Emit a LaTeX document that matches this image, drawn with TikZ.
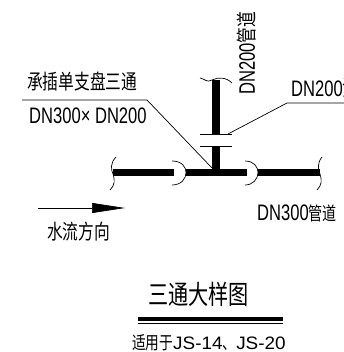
\documentclass[tikz,border=0pt]{standalone}
\usepackage{fontspec}
\setmainfont[FakeStretch=0.74]{Liberation Sans}
\newfontfamily\cjkfont[FakeStretch=0.76]{Noto Sans CJK SC}
\newfontfamily\notefont[FakeStretch=1.05]{Liberation Sans}
\usetikzlibrary{arrows.meta}
\begin{document}
\begin{tikzpicture}[x=1pt,y=-1pt,
  pipe/.style={line width=7.5pt},
  thin line/.style={line width=0.7pt},
  label/.style={inner sep=0pt,anchor=west,font=\fontsize{22.4}{22}\selectfont}
  ]
  \useasboundingbox (0,0) rectangle (344,352);

  \coordinate (main_a) at (113,172.5);
  \coordinate (main_b) at (174,172.5);
  \coordinate (main_c) at (186,172.5);
  \coordinate (main_d) at (247,172.5);
  \coordinate (main_e) at (258,172.5);
  \coordinate (main_f) at (320,172.5);
  \coordinate (branch_top) at (216,80);
  \coordinate (flange_up) at (216,134.5);
  \coordinate (flange_low) at (216,146.5);
  \coordinate (tee) at (216,172.5);

  \draw[pipe] (main_a) -- (main_b);
  \draw[pipe] (main_c) -- (main_d);
  \draw[pipe] (main_e) -- (main_f);
  \draw[pipe] (branch_top) -- (flange_up);
  \draw[pipe] (flange_low) -- (tee);

  % flanges
  \draw[thin line] (200,134.5) -- (232,134.5);
  \draw[thin line] (200,146.5) -- (232,146.5);

  % sockets
  \draw[thin line] (172,161) .. controls (182,161) and (186,167) .. (186,172.5)
    .. controls (186,179) and (181,185) .. (172,185);
  \draw[thin line] (245,161) .. controls (254,161) and (258,167) .. (258,172.5)
    .. controls (258,179) and (253,185) .. (245,185);

  % break lines
  \draw[thin line] (200,78) .. controls (205,79) and (207,83) .. (212,80)
    .. controls (218,77) and (226,77) .. (232,83);
  \draw[thin line] (116,157) .. controls (110,163) and (111,170) .. (113,174)
    .. controls (115,180) and (115,185) .. (110,190);
  \draw[thin line] (322,157) .. controls (317,163) and (318,170) .. (320,174)
    .. controls (322,180) and (322,185) .. (317,190);

  % leaders
  \coordinate (lead_a) at (22,100);
  \coordinate (lead_b) at (147,100);
  \coordinate (lead_c) at (212,168);
  \coordinate (lead_d) at (228,134);
  \coordinate (lead_e) at (287,103);
  \coordinate (lead_f) at (344,103);
  \draw[thin line] (lead_a) -- (lead_b) -- (lead_c);
  \draw[thin line] (lead_d) -- (lead_e) -- (lead_f);

  \node[label,font=\fontsize{20.7}{20}\selectfont] (tee_name) at (27,82) {\cjkfont 承插单支盘三通};
  \node[label] (tee_size) at (29,116) {DN300× DN200};
  \node[label,rotate=90] (branch_name) at (247,95) {DN200{\fontsize{20.7}{20}\selectfont\cjkfont 管道}};
  \node[label] (flange_name) at (291,88) {DN200{\cjkfont 法}};
  \node[label] (main_name) at (257,213) {DN300{\fontsize{18.5}{20}\selectfont\cjkfont 管道}};

  % flow
  \coordinate (flow_a) at (38,208);
  \coordinate (flow_b) at (125,208);
  \draw[thin line,-{Triangle[length=33pt,width=10pt]}] (flow_a) -- (flow_b);
  \node[label,font=\fontsize{20.7}{20}\selectfont] (flow_name) at (47,232) {\cjkfont 水流方向};

  % title
  \node[label,font=\fontsize{26.5}{26}\selectfont] (title) at (148,294) {\cjkfont 三通大样图};
  \coordinate (rule_a) at (138,319);
  \coordinate (rule_b) at (283,319);
  \coordinate (rule_c) at (138,323);
  \coordinate (rule_d) at (283,323);
  \draw[line width=4.5pt] (rule_a) -- (rule_b);
  \draw[thin line] (rule_c) -- (rule_d);
  \node[label,font=\fontsize{18}{18}\selectfont] (note) at (132,342.5) {{\cjkfont 适用于}\notefont JS-14{\cjkfont 、}JS-20};
\end{tikzpicture}
\end{document}
